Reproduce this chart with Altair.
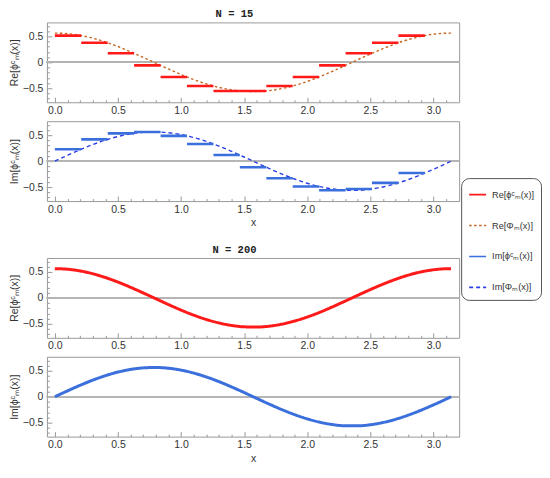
import altair as alt
import pandas as pd

# ---------------- data ----------------
SERIES = ["Re[ϕᶜₘ(x)]", "Re[Φₘ(x)]", "Im[ϕᶜₘ(x)]", "Im[Φₘ(x)]"]
COLORS = ["#ff1a1a", "#c8641e", "#3b6fdc", "#2b3fe6"]
DASHES = [[1, 0], [2.5, 2.5], [1, 0], [4, 3]]

# sampled exact curves
curve_x = [0.0, 0.1, 0.2, 0.3, 0.4, 0.5, 0.6, 0.7, 0.8, 0.9, 1.0, 1.1, 1.2, 1.3, 1.4, 1.5,
           1.6, 1.7, 1.8, 1.9, 2.0, 2.1, 2.2, 2.3, 2.4, 2.5, 2.6, 2.7, 2.8, 2.9, 3.0, 3.1, 3.14]
curve_re = [0.564, 0.553, 0.520, 0.466, 0.393, 0.305, 0.204, 0.096, -0.016, -0.128, -0.235,
            -0.332, -0.416, -0.483, -0.531, -0.558, -0.563, -0.545, -0.506, -0.446, -0.369,
            -0.277, -0.173, -0.063, 0.049, 0.160, 0.264, 0.358, 0.438, 0.500, 0.542, 0.562, 0.564]
curve_im = [0.0, 0.112, 0.220, 0.319, 0.405, 0.475, 0.526, 0.556, 0.564, 0.549, 0.513,
            0.456, 0.381, 0.291, 0.189, 0.080, -0.033, -0.144, -0.250, -0.345, -0.427,
            -0.492, -0.537, -0.561, -0.562, -0.541, -0.498, -0.436, -0.356, -0.262, -0.158,
            -0.047, 0.0]

# N = 15 step segments
step_x0 = [0.0, 0.209, 0.419, 0.628, 0.838, 1.047, 1.257, 1.466, 1.676, 1.885, 2.094, 2.304, 2.513, 2.723]
step_x1 = [0.209, 0.419, 0.628, 0.838, 1.047, 1.257, 1.466, 1.676, 1.885, 2.094, 2.304, 2.513, 2.723, 2.932]
step_re = [0.515, 0.377, 0.174, -0.059, -0.282, -0.456, -0.552, -0.552, -0.456, -0.282, -0.059, 0.174, 0.377, 0.515]
step_im = [0.229, 0.419, 0.536, 0.561, 0.488, 0.331, 0.117, -0.117, -0.331, -0.488, -0.561, -0.536, -0.419, -0.229]

x_ticks = [0.0, 0.1, 0.2, 0.3, 0.4, 0.5, 0.6, 0.7, 0.8, 0.9, 1.0, 1.1, 1.2, 1.3, 1.4, 1.5,
           1.6, 1.7, 1.8, 1.9, 2.0, 2.1, 2.2, 2.3, 2.4, 2.5, 2.6, 2.7, 2.8, 2.9, 3.0, 3.1]
y_ticks = [-0.7, -0.6, -0.5, -0.4, -0.3, -0.2, -0.1, 0.0, 0.1, 0.2, 0.3, 0.4, 0.5, 0.6, 0.7]
X_DOMAIN = [-0.0628, 3.204]
Y_DOMAIN = [-0.77, 0.77]

# ---------------- styling helpers ----------------
W, H = 413, 80
MAJOR = "abs(datum.value*2-round(datum.value*2))<0.001"
FONT = "Liberation Sans"

def tick_dash():
    return {"condition": {"test": MAJOR, "value": [5, 0]}, "value": [0, 2.5, 2.5]}

def x_axis(title):
    kw = dict(values=x_ticks, labelExpr=f"{MAJOR} ? format(datum.value,'.1f') : ''",
              labelOverlap=False, labelFlush=False, offset=-5, tickSize=5,
              tickDash=tick_dash(), labelPadding=3, domain=False, grid=False)
    if title:
        kw.update(title=title, titlePadding=3)
    else:
        kw.update(title=None)
    return alt.Axis(**kw)

def y_axis(title):
    return alt.Axis(values=y_ticks,
                    labelExpr=f"{MAJOR} ? (abs(datum.value)<0.001 ? '0' : format(datum.value,'.1f')) : ''",
                    labelOverlap=False, labelFlush=False, offset=-5, tickSize=5,
                    tickDash=tick_dash(), labelPadding=4, domain=False, grid=False,
                    title=title, titlePadding=3)

color_enc = alt.Color("s:N", scale=alt.Scale(domain=SERIES, range=COLORS),
                      legend=alt.Legend(title=None, orient="none", legendX=415, legendY=156,
                                        symbolType="stroke", symbolSize=289, symbolStrokeWidth=1.6,
                                        labelFont=FONT, labelFontSize=9.2, labelColor="#333",
                                        fillColor="white", strokeColor="#555", cornerRadius=8,
                                        padding=7, rowPadding=16, labelOffset=5, labelLimit=200))
dash_enc = alt.StrokeDash("s:N", scale=alt.Scale(domain=SERIES, range=DASHES))

curve_df = pd.DataFrame({"x": curve_x, "re": curve_re, "im": curve_im})
step_df = pd.DataFrame({"x0": step_x0, "x1": step_x1, "re": step_re, "im": step_im})


def panel(part, n, xtitle):
    ytitle = f"{part}[ϕᶜₘ(x)]"
    field = "re" if part == "Re" else "im"
    s_step = SERIES[0] if part == "Re" else SERIES[2]
    s_exact = SERIES[1] if part == "Re" else SERIES[3]
    xs = alt.Scale(domain=X_DOMAIN, nice=False, zero=False)
    ys = alt.Scale(domain=Y_DOMAIN, nice=False, zero=False)
    X = lambda f: alt.X(f, scale=xs, axis=x_axis(xtitle))
    Y = lambda f: alt.Y(f, scale=ys, axis=y_axis(ytitle))

    layers = []
    if n == 15:
        exact = alt.Chart(curve_df).transform_calculate(s=f"'{s_exact}'").mark_line(
            strokeWidth=1.4, interpolate="monotone").encode(
            x=X("x:Q"), y=Y(f"{field}:Q"), color=color_enc, strokeDash=dash_enc)
        steps = alt.Chart(step_df).transform_calculate(s=f"'{s_step}'").mark_rule(
            strokeWidth=2.6).encode(
            x=X("x0:Q"), x2="x1:Q", y=Y(f"{field}:Q"), color=color_enc, strokeDash=dash_enc)
        layers += [exact, steps]
    else:
        line = alt.Chart(curve_df).transform_calculate(s=f"'{s_step}'").mark_line(
            strokeWidth=3, interpolate="monotone").encode(
            x=X("x:Q"), y=Y(f"{field}:Q"), color=color_enc, strokeDash=dash_enc)
        layers += [line]
    zero = alt.Chart(curve_df).mark_rule(color="#b5b5b5", strokeWidth=1).encode(
        y=alt.datum(0, scale=ys, axis=y_axis(ytitle)))
    layers = [zero] + layers
    return alt.layer(*layers).properties(width=W, height=H)


def group(n):
    return alt.vconcat(panel("Re", n, None), panel("Im", n, "x"), spacing=3).properties(
        title=alt.TitleParams(f"N = {n}", font="Liberation Mono", fontWeight="bold",
                              fontSize=10.5, color="#222", anchor="middle", frame="bounds",
                              offset=1))


chart = alt.vconcat(group(15), group(200), spacing=15).properties(
    padding={"left": 0, "top": 0, "right": 0, "bottom": 0}
).configure_view(stroke="#9a9a9a", strokeWidth=1).configure_axis(
    labelFont=FONT, labelFontSize=10.5, labelColor="#333", titleFont=FONT,
    titleFontSize=10.5, titleColor="#333", titleFontWeight="normal", tickColor="#999"
).configure_title(fontSize=10.5)

chart.save("out.html", embed_options={"renderer": "svg", "actions": False})
